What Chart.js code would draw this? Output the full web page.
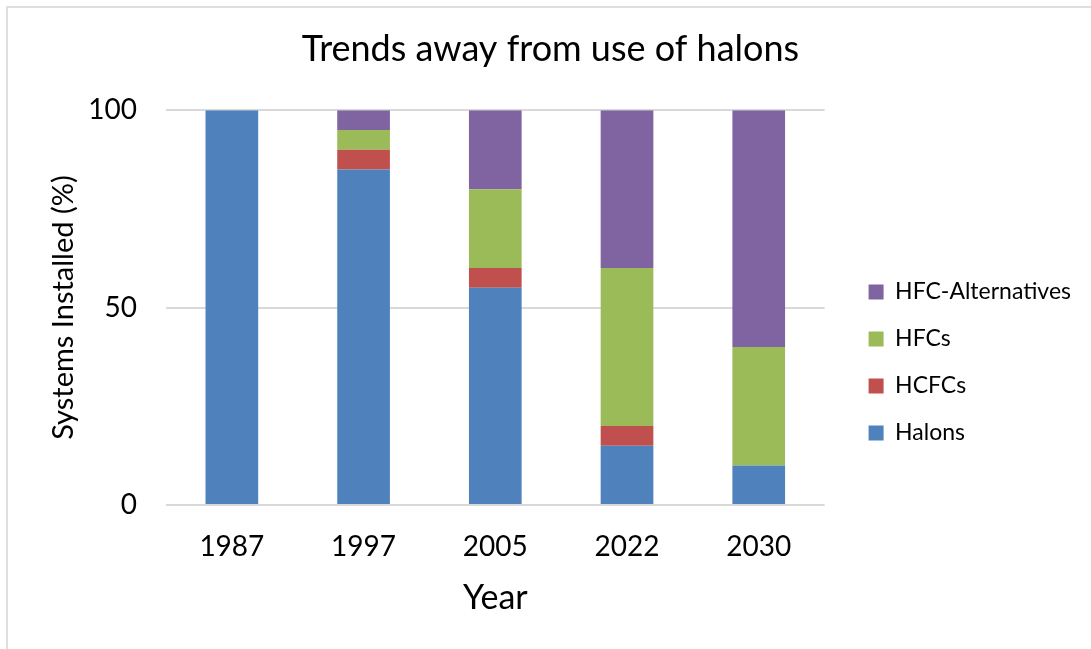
<!DOCTYPE html>
<html>
<head>
<meta charset="utf-8">
<title>Trends away from use of halons</title>
<script src="https://cdn.jsdelivr.net/npm/chart.js@4.4.1/dist/chart.umd.min.js"></script>
<style>
    html, body {
        margin: 0;
        padding: 0;
        background: #ffffff;
        overflow: hidden;
    }
    #wrap {
        position: relative;
        width: 1091px;
        height: 649px;
    }
    /* cadre gris clair autour du graphique */
    #frame {
        position: absolute;
        left: 6px;
        top: 6px;
        width: 1200px;
        height: 800px;
        border: 2px solid #dedede;
        box-sizing: border-box;
    }
    #chart {
        position: absolute;
        left: 0;
        top: 0;
    }
</style>
</head>
<body>
<div id="wrap">
    <div id="frame"></div>
    <canvas id="chart" width="1091" height="649"></canvas>
</div>
<script>
// Données du graphique
const years = ['1987', '1997', '2005', '2022', '2030'];
const halons = [100, 85, 55, 15, 10];
const hcfcs = [0, 5, 5, 5, 0];
const hfcs = [0, 5, 20, 40, 30];
const hfcAlternatives = [0, 5, 20, 40, 60];
const yTicks = [0, 50, 100];

const FONT = 'Lato, "Open Sans", sans-serif';

document.addEventListener('DOMContentLoaded', function() {
    const ctx = document.getElementById('chart').getContext('2d');

    new Chart(ctx, {
        type: 'bar',
        data: {
            labels: years,
            datasets: [
                { label: 'Halons', data: halons, backgroundColor: '#4f81bd' },
                { label: 'HCFCs', data: hcfcs, backgroundColor: '#c0504d' },
                { label: 'HFCs', data: hfcs, backgroundColor: '#9bbb59' },
                { label: 'HFC-Alternatives', data: hfcAlternatives, backgroundColor: '#8064a2' }
            ]
        },
        options: {
            responsive: false,
            animation: false,
            events: [],
            datasets: {
                bar: {
                    categoryPercentage: 1,
                    barPercentage: 0.4,
                    borderWidth: 0
                }
            },
            layout: {
                padding: { left: 20, right: 10, top: 0, bottom: 0 }
            },
            plugins: {
                title: {
                    display: true,
                    text: 'Trends away from use of halons',
                    color: '#000000',
                    font: { family: FONT, size: 36, weight: 'normal' },
                    padding: { top: 28, bottom: 39 }
                },
                legend: {
                    position: 'right',
                    reverse: true,
                    maxWidth: 400,
                    // titre vide : sert seulement à descendre les entrées
                    title: {
                        display: true,
                        text: '',
                        font: { family: FONT, size: 10 },
                        padding: { top: 0, bottom: 64 }
                    },
                    labels: {
                        boxWidth: 15,
                        boxHeight: 15,
                        padding: 24,
                        color: '#000000',
                        font: { family: FONT, size: 23 }
                    }
                },
                tooltip: { enabled: false }
            },
            scales: {
                x: {
                    stacked: true,
                    grid: { display: false, drawTicks: false },
                    border: { display: false },
                    ticks: {
                        color: '#000000',
                        padding: 25,
                        font: { family: FONT, size: 28 }
                    },
                    title: {
                        display: true,
                        text: 'Year',
                        color: '#000000',
                        font: { family: FONT, size: 34 },
                        padding: { top: 0, bottom: 31 }
                    },
                    afterFit: function(scale) {
                        scale.height = 144;
                    }
                },
                y: {
                    stacked: true,
                    min: 0,
                    max: 100,
                    afterBuildTicks: function(scale) {
                        scale.ticks = yTicks.map(v => ({ value: v }));
                    },
                    grid: {
                        color: '#d9d9d9',
                        lineWidth: 2,
                        drawTicks: false
                    },
                    border: { display: false },
                    ticks: {
                        color: '#000000',
                        padding: 29,
                        font: { family: FONT, size: 28 }
                    },
                    title: {
                        display: true,
                        text: 'Systems Installed (%)',
                        color: '#000000',
                        font: { family: FONT, size: 29 },
                        padding: { top: 26, bottom: 0 }
                    },
                    afterFit: function(scale) {
                        scale.width = 146;
                    }
                },
                // axe vide pour laisser un espace entre la zone de tracé et la légende
                spacer: {
                    type: 'linear',
                    position: 'right',
                    display: true,
                    grid: { display: false, drawTicks: false },
                    border: { display: false },
                    ticks: { display: false },
                    afterFit: function(scale) {
                        scale.width = 20;
                    }
                }
            }
        }
    });
});
</script>
</body>
</html>
